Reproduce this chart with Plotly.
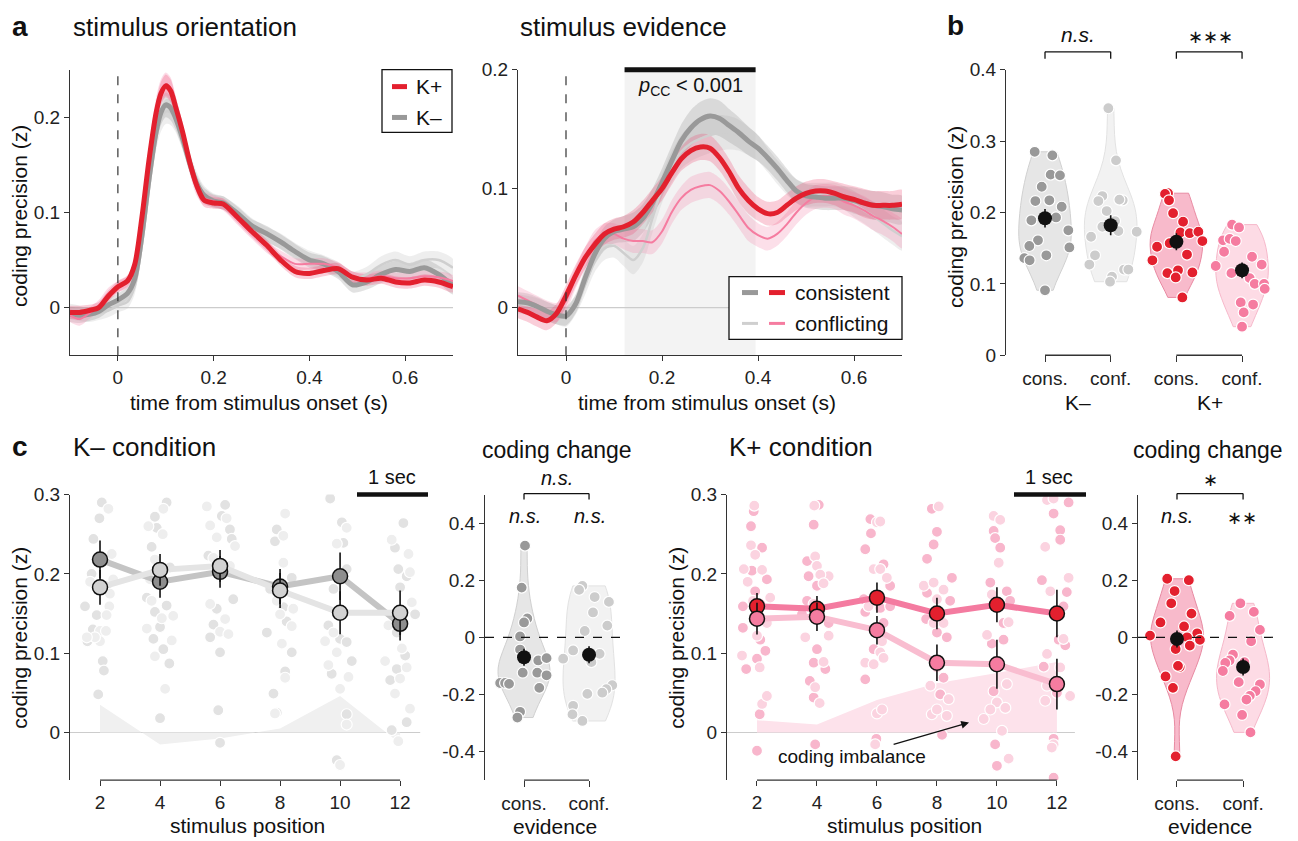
import numpy as np
import plotly.graph_objects as go

W, H = 1298, 841
FONT = "Liberation Sans, Arial, Helvetica, sans-serif"
AXC = "#333333"

RED = "#e3202e"
PINK = "#f57ca0"
GRAY = "#999999"
LGRAY = "#cfcfcf"

# ================= Panel a: stimulus orientation =================
A1_TIME = [-0.1, -0.08, -0.06, -0.04, -0.02, 0.0, 0.02, 0.035, 0.05, 0.065, 0.08, 0.09, 0.1, 0.11, 0.12,
           0.135, 0.15, 0.165, 0.18, 0.2, 0.22, 0.25, 0.28, 0.31, 0.34, 0.37, 0.4, 0.43, 0.46, 0.49,
           0.52, 0.55, 0.58, 0.61, 0.64, 0.67, 0.7]
A1_KPLUS = [-0.005, -0.005, -0.003, 0.0, 0.012, 0.022, 0.028, 0.045, 0.094, 0.155, 0.205, 0.225, 0.233, 0.228, 0.212,
            0.185, 0.153, 0.128, 0.113, 0.11, 0.109, 0.095, 0.08, 0.066, 0.05, 0.038, 0.036, 0.039, 0.041, 0.032,
            0.029, 0.031, 0.027, 0.026, 0.029, 0.027, 0.022]
A1_KPLUS_THIN = [-0.008, -0.012, -0.006, 0.002, 0.015, 0.022, 0.027, 0.045, 0.095, 0.16, 0.21, 0.228, 0.235, 0.23, 0.213,
                 0.183, 0.15, 0.125, 0.115, 0.112, 0.108, 0.093, 0.078, 0.064, 0.054, 0.046, 0.046, 0.046, 0.042, 0.032,
                 0.031, 0.033, 0.031, 0.031, 0.033, 0.032, 0.028]
A1_KMINUS = [-0.007, -0.008, -0.007, -0.004, 0.003, 0.008, 0.015, 0.03, 0.075, 0.135, 0.185, 0.205, 0.213, 0.21, 0.2,
             0.178, 0.152, 0.13, 0.118, 0.112, 0.11, 0.099, 0.086, 0.078, 0.069, 0.059, 0.05, 0.046, 0.038, 0.024,
             0.027, 0.035, 0.04, 0.038, 0.042, 0.035, 0.023]
A1_KMINUS_THIN = [-0.004, -0.006, -0.008, -0.006, -0.003, 0.002, 0.006, 0.022, 0.065, 0.125, 0.178, 0.198, 0.206, 0.205, 0.197,
                  0.177, 0.153, 0.133, 0.12, 0.113, 0.11, 0.1, 0.087, 0.077, 0.07, 0.06, 0.052, 0.047, 0.04, 0.03,
                  0.035, 0.045, 0.05, 0.045, 0.05, 0.05, 0.042]
A1_SEM_KP = [0.007, 0.007, 0.006, 0.006, 0.006, 0.006, 0.006, 0.007, 0.008, 0.01, 0.011, 0.012, 0.012, 0.012, 0.011,
             0.01, 0.009, 0.008, 0.007, 0.006, 0.006, 0.006, 0.006, 0.006, 0.006, 0.006, 0.006, 0.006, 0.006, 0.006,
             0.006, 0.006, 0.006, 0.006, 0.006, 0.006, 0.006]
A1_SEM_KM = [0.008, 0.008, 0.007, 0.007, 0.007, 0.007, 0.007, 0.008, 0.009, 0.011, 0.012, 0.013, 0.013, 0.013, 0.012,
             0.011, 0.01, 0.009, 0.008, 0.007, 0.007, 0.007, 0.007, 0.008, 0.008, 0.008, 0.008, 0.008, 0.008, 0.008,
             0.008, 0.009, 0.009, 0.009, 0.009, 0.009, 0.009]

# ================= Panel a: stimulus evidence =================
A2_TIME = [-0.1, -0.08, -0.06, -0.04, -0.02, 0.0, 0.02, 0.04, 0.06, 0.08, 0.1, 0.12, 0.14, 0.16, 0.18,
           0.2, 0.22, 0.24, 0.26, 0.28, 0.3, 0.32, 0.34, 0.36, 0.38, 0.4, 0.42, 0.44, 0.46, 0.48,
           0.5, 0.52, 0.54, 0.56, 0.58, 0.6, 0.62, 0.64, 0.66, 0.68, 0.7]
A2_KPLUS_CONS = [-0.001, -0.004, -0.008, -0.011, -0.005, 0.01, 0.027, 0.042, 0.053, 0.062, 0.066, 0.068, 0.072, 0.08, 0.09,
                 0.1, 0.113, 0.125, 0.132, 0.135, 0.134, 0.126, 0.114, 0.1, 0.09, 0.083, 0.079, 0.08, 0.086, 0.092,
                 0.096, 0.098, 0.098, 0.096, 0.093, 0.091, 0.088, 0.086, 0.086, 0.086, 0.087]
A2_KMINUS_CONS = [0.005, 0.004, 0.001, -0.003, -0.006, -0.007, 0.003, 0.025, 0.045, 0.058, 0.064, 0.066, 0.068, 0.075, 0.088,
                  0.105, 0.123, 0.14, 0.151, 0.158, 0.161, 0.159, 0.153, 0.147, 0.14, 0.134, 0.126, 0.117, 0.107, 0.098,
                  0.094, 0.093, 0.092, 0.092, 0.092, 0.09, 0.088, 0.086, 0.085, 0.083, 0.082]
A2_KMINUS_CONF = [0.003, 0.002, 0.0, -0.003, -0.006, -0.008, 0.002, 0.02, 0.039, 0.05, 0.052, 0.046, 0.04, 0.05, 0.075,
                  0.1, 0.118, 0.131, 0.138, 0.142, 0.145, 0.147, 0.147, 0.145, 0.14, 0.134, 0.124, 0.114, 0.105, 0.098,
                  0.095, 0.095, 0.095, 0.095, 0.092, 0.087, 0.082, 0.077, 0.071, 0.065, 0.06]
A2_KPLUS_CONF = [0.01, 0.006, 0.002, -0.002, -0.004, 0.006, 0.025, 0.042, 0.056, 0.062, 0.062, 0.058, 0.056, 0.056, 0.055,
                 0.064, 0.08, 0.092, 0.099, 0.102, 0.103, 0.098, 0.089, 0.078, 0.067, 0.061, 0.058, 0.062, 0.07, 0.08,
                 0.088, 0.093, 0.094, 0.093, 0.089, 0.086, 0.082, 0.077, 0.073, 0.068, 0.062]
A2_SEM_KP = [0.008, 0.008, 0.008, 0.008, 0.008, 0.009, 0.009, 0.009, 0.009, 0.009, 0.009, 0.009, 0.01, 0.01, 0.01,
             0.01, 0.01, 0.01, 0.011, 0.011, 0.011, 0.011, 0.011, 0.011, 0.011, 0.01, 0.01, 0.01, 0.01, 0.01,
             0.01, 0.01, 0.01, 0.01, 0.011, 0.011, 0.012, 0.012, 0.012, 0.012, 0.012]
A2_SEM_KM = [0.008, 0.008, 0.008, 0.008, 0.008, 0.008, 0.008, 0.009, 0.009, 0.01, 0.01, 0.011, 0.012, 0.012, 0.012,
             0.012, 0.013, 0.014, 0.015, 0.015, 0.015, 0.015, 0.014, 0.013, 0.012, 0.011, 0.01, 0.01, 0.01, 0.01,
             0.01, 0.01, 0.01, 0.01, 0.01, 0.011, 0.011, 0.012, 0.012, 0.012, 0.012]
SIG_WINDOW = [0.122, 0.395]

# ================= Panel b =================
B_KM_CONS_VALS = [0.285, 0.28, 0.253, 0.252, 0.236, 0.216, 0.217, 0.208, 0.193, 0.189, 0.175, 0.161, 0.153, 0.151, 0.14, 0.136, 0.133, 0.091]
B_KM_CONS_OFFS = [-0.157, 0.112, 0.086, 0.228, -0.05, -0.147, 0.066, 0.254, 0.168, -0.208, 0.355, -0.107, -0.239, 0.371, 0.02, -0.315, -0.234, 0.0]
B_KM_CONF_VALS = [0.346, 0.273, 0.223, 0.216, 0.217, 0.218, 0.202, 0.188, 0.18, 0.174, 0.173, 0.166, 0.14, 0.127, 0.11, 0.103, 0.12, 0.12]
B_KM_CONF_OFFS = [-0.036, 0.081, -0.127, -0.188, 0.183, 0.132, -0.061, 0.066, -0.127, 0.117, 0.396, -0.299, -0.239, -0.325, 0.02, -0.01, 0.203, 0.269]
B_KP_CONS_VALS = [0.227, 0.226, 0.217, 0.199, 0.187, 0.172, 0.171, 0.173, 0.16, 0.157, 0.152, 0.141, 0.133, 0.115, 0.119, 0.116, 0.109, 0.081]
B_KP_CONS_OFFS = [-0.127, -0.173, -0.112, -0.05, 0.102, 0.061, 0.203, 0.335, 0.396, -0.102, -0.294, 0.162, -0.365, -0.137, 0.025, 0.244, -0.01, 0.091]
B_KP_CONF_VALS = [0.183, 0.179, 0.161, 0.163, 0.16, 0.145, 0.138, 0.125, 0.127, 0.115, 0.108, 0.1, 0.1, 0.093, 0.074, 0.071, 0.06, 0.04]
B_KP_CONF_OFFS = [-0.152, -0.046, -0.289, -0.188, -0.096, -0.274, 0.152, -0.401, 0.299, -0.162, 0.117, 0.193, 0.335, 0.345, -0.02, 0.168, 0.025, 0.0]
B_MEANS = [0.192, 0.182, 0.159, 0.119]
B_SEMS = [0.013, 0.014, 0.012, 0.011]
B_TICKS = ["cons.", "conf.", "cons.", "conf."]

# ================= Panel c: stimulus position =================
C_POS = [2, 4, 6, 8, 10, 12]
KM_MEAN_CONS = [0.218, 0.19, 0.2025, 0.184, 0.197, 0.137]
KM_SEM_CONS = [0.024, 0.02, 0.02, 0.022, 0.03, 0.021]
KM_MEAN_CONF = [0.183, 0.205, 0.21, 0.179, 0.151, 0.151]
KM_SEM_CONF = [0.022, 0.02, 0.02, 0.022, 0.027, 0.028]
KP_MEAN_CONS = [0.159, 0.156, 0.17, 0.15, 0.161, 0.15]
KP_SEM_CONS = [0.017, 0.016, 0.019, 0.02, 0.022, 0.03]
KP_MEAN_CONF = [0.1435, 0.146, 0.129, 0.088, 0.086, 0.061]
KP_SEM_CONF = [0.02, 0.018, 0.018, 0.023, 0.031, 0.032]

KM_DOTS_CONS = [
    [0.29, 0.27, 0.244, 0.2, 0.159, 0.148, 0.13, 0.115, 0.09, 0.048, 0.185, 0.078],
    [0.29, 0.272, 0.258, 0.234, 0.208, 0.17, 0.16, 0.152, 0.133, 0.118, 0.105, 0.087, 0.018],
    [0.287, 0.273, 0.256, 0.244, 0.223, 0.168, 0.156, 0.136, 0.12, 0.101, 0.028, -0.013],
    [0.256, 0.241, 0.195, 0.181, 0.158, 0.14, 0.126, 0.101, 0.077, 0.049, 0.025],
    [0.295, 0.265, 0.239, 0.206, 0.181, 0.135, 0.118, 0.114, 0.09, 0.074, 0.023, -0.035],
    [0.264, 0.233, 0.206, 0.197, 0.149, 0.126, 0.097, 0.08, 0.066, 0.013, 0.003, 0.183],
]
KM_OFFS_CONS = [
    [0.06, -0.02, -0.22, -0.28, -0.5, -0.11, -0.24, -0.42, 0.09, -0.06, 0.22, 0.13],
    [0.22, -0.17, -0.11, -0.28, 0.33, -0.44, 0.22, -0.17, 0.0, -0.22, 0.11, 0.31, 0.0],
    [0.17, 0.06, 0.33, 0.39, -0.39, 0.44, -0.11, -0.22, -0.33, 0.0, -0.06, 0.0],
    [-0.11, -0.17, 0.39, -0.33, 0.11, 0.22, -0.44, 0.39, 0.17, -0.22, -0.11],
    [-0.33, 0.06, 0.11, 0.22, -0.22, -0.39, 0.0, 0.22, 0.39, -0.28, 0.22, -0.11],
    [0.11, -0.17, -0.06, 0.22, 0.5, -0.11, 0.17, -0.11, -0.33, 0.22, -0.28, 0.0],
]
KM_DOTS_CONF = [
    [0.282, 0.225, 0.193, 0.159, 0.148, 0.128, 0.128, 0.115, 0.12, 0.19, 0.175, 0.12],
    [0.282, 0.26, 0.25, 0.218, 0.193, 0.166, 0.147, 0.144, 0.131, 0.116, 0.096, 0.055],
    [0.285, 0.261, 0.27, 0.246, 0.235, 0.22, 0.21, 0.162, 0.143, 0.127, 0.124],
    [0.276, 0.248, 0.214, 0.166, 0.156, 0.149, 0.134, 0.112, 0.069, 0.024],
    [0.258, 0.238, 0.126, 0.115, 0.101, 0.085, 0.07, 0.055, 0.01, -0.041],
    [0.243, 0.225, 0.202, 0.164, 0.135, 0.106, 0.082, 0.09, 0.068, 0.03, 0.049, -0.011],
]
KM_OFFS_CONF = [
    [0.28, 0.39, 0.44, 0.31, 0.22, 0.0, 0.2, 0.0, -0.17, -0.33, 0.33, -0.44],
    [0.11, -0.39, 0.09, -0.17, -0.33, -0.28, 0.44, 0.06, -0.44, 0.39, -0.17, 0.17],
    [-0.44, -0.33, 0.22, -0.11, 0.5, -0.22, 0.33, -0.33, 0.17, 0.0, 0.28],
    [0.17, 0.11, 0.11, -0.11, 0.44, 0.0, 0.39, 0.06, 0.17, -0.17],
    [0.22, -0.11, -0.22, -0.5, -0.11, -0.39, 0.28, 0.0, 0.22, 0.0],
    [-0.28, 0.28, 0.33, 0.39, -0.39, 0.06, 0.22, -0.5, 0.0, 0.33, -0.17, -0.06],
]
KP_DOTS_CONS = [
    [0.279, 0.26, 0.233, 0.204, 0.193, 0.178, 0.159, 0.162, 0.132, 0.117, 0.093, 0.08, 0.023, -0.023, 0.103],
    [0.287, 0.262, 0.216, 0.197, 0.185, 0.166, 0.149, 0.138, 0.105, 0.088, 0.08, 0.065, 0.044, -0.015],
    [0.269, 0.251, 0.231, 0.212, 0.185, 0.168, 0.157, 0.152, 0.138, 0.105, 0.067, -0.008, 0.159],
    [0.282, 0.253, 0.237, 0.219, 0.195, 0.176, 0.166, 0.143, 0.126, 0.12, 0.069, 0.048, -0.003],
    [0.254, 0.245, 0.233, 0.189, 0.178, 0.166, 0.159, 0.138, 0.112, 0.117, 0.052, -0.015, -0.042],
    [0.276, 0.255, 0.243, 0.192, 0.177, 0.159, 0.117, 0.11, 0.083, 0.05, -0.008, -0.057, 0.29],
]
KP_OFFS_CONS = [
    [-0.11, -0.2, 0.17, -0.17, 0.33, -0.06, -0.47, 0.11, -0.47, 0.11, 0.0, -0.36, 0.09, 0.0, 0.28],
    [0.06, -0.11, -0.33, -0.28, 0.0, -0.33, -0.5, 0.39, 0.0, -0.11, 0.28, -0.24, -0.11, -0.06],
    [-0.22, -0.2, -0.39, 0.22, 0.44, -0.44, 0.11, -0.39, 0.22, -0.11, -0.39, -0.02, 0.44],
    [-0.17, 0.0, -0.11, -0.33, 0.5, -0.33, 0.44, -0.36, 0.0, 0.33, 0.22, 0.11, 0.17],
    [-0.11, -0.06, 0.11, -0.22, 0.33, 0.44, -0.11, 0.22, -0.17, 0.22, -0.11, -0.06, 0.0],
    [-0.11, 0.11, 0.11, -0.5, 0.33, 0.22, 0.06, 0.28, -0.44, 0.0, -0.11, -0.11, 0.39],
]
KP_DOTS_CONF = [
    [0.286, 0.236, 0.224, 0.206, 0.205, 0.19, 0.17, 0.166, 0.122, 0.138, 0.097, 0.082, 0.036, 0.046],
    [0.286, 0.222, 0.21, 0.197, 0.199, 0.188, 0.162, 0.153, 0.122, 0.12, 0.089, 0.057, 0.037],
    [0.265, 0.266, 0.206, 0.206, 0.195, 0.159, 0.115, 0.101, 0.088, 0.086, 0.094, 0.024, 0.029, -0.015],
    [0.285, 0.185, 0.189, 0.18, 0.168, 0.138, 0.138, 0.082, 0.059, 0.042, 0.023, 0.029, 0.021],
    [0.273, 0.268, 0.214, 0.174, 0.139, 0.123, 0.061, 0.038, 0.029, 0.031, 0.017, 0.002, -0.033],
    [0.293, 0.295, 0.234, 0.195, 0.178, 0.118, 0.099, 0.082, 0.059, 0.046, 0.04, -0.015, -0.019],
]
KP_OFFS_CONF = [
    [-0.09, -0.2, -0.06, -0.44, 0.17, -0.31, 0.44, -0.13, 0.0, 0.33, -0.5, 0.09, 0.17, 0.33],
    [-0.09, -0.06, 0.0, 0.39, 0.11, 0.22, -0.11, 0.0, 0.39, -0.39, 0.22, -0.06, 0.09],
    [0.0, 0.11, -0.11, 0.11, 0.33, -0.28, 0.17, 0.11, -0.39, -0.11, 0.22, 0.0, 0.17, -0.06],
    [0.06, -0.44, -0.11, 0.22, 0.0, -0.11, 0.22, 0.0, -0.22, 0.39, -0.17, 0.0, 0.33],
    [-0.11, 0.11, 0.06, -0.17, 0.39, -0.33, 0.33, 0.0, -0.22, 0.28, -0.44, 0.17, 0.39],
    [-0.33, -0.11, -0.39, 0.39, -0.22, 0.22, -0.33, 0.11, -0.33, 0.44, -0.39, -0.11, -0.17],
]

# ================= Panel c: coding change =================
C2_CONS_VALS = [0.321, 0.174, 0.066, 0.052, 0.003, -0.043, -0.067, -0.081, -0.073, -0.124, -0.124, -0.133, -0.16, -0.16, -0.163, -0.177, -0.261, -0.281]
C2_CONS_OFFS = [0.015, -0.036, 0.051, 0.0, -0.061, -0.061, -0.02, 0.219, 0.347, -0.02, 0.204, 0.347, -0.367, -0.291, -0.23, 0.235, -0.061, -0.102]
C2_CONF_VALS = [0.18, 0.166, 0.141, 0.124, 0.087, 0.022, 0.041, -0.046, -0.075, -0.058, -0.087, -0.168, -0.182, -0.194, -0.198, -0.24, -0.27, -0.293]
C2_CONF_OFFS = [-0.102, -0.153, 0.087, 0.306, 0.061, -0.066, 0.281, -0.245, -0.398, 0.163, 0.036, 0.357, 0.265, 0.204, -0.026, -0.245, -0.255, -0.102]
C2_MEANS = [-0.07, -0.061]
C2_SEMS = [0.03, 0.03]
C4_CONS_VALS = [0.205, 0.2, 0.162, 0.119, 0.083, 0.052, 0.038, 0.006, 0.014, 0.0, -0.009, -0.029, -0.041, -0.104, -0.137, -0.177, -0.417, -0.1]
C4_CONS_OFFS = [-0.148, 0.179, -0.036, -0.087, 0.219, -0.25, 0.107, -0.408, 0.306, 0.153, 0.347, 0.194, -0.02, 0.041, -0.173, -0.061, -0.02, 0.015]
C4_CONF_VALS = [0.119, 0.075, 0.089, 0.026, -0.014, -0.061, -0.081, -0.09, -0.118, -0.087, -0.157, -0.165, -0.189, -0.205, -0.218, -0.235, -0.272, -0.333]
C4_CONF_OFFS = [-0.041, -0.204, 0.163, 0.255, 0.122, -0.153, -0.204, -0.27, -0.306, 0.02, -0.066, 0.255, 0.189, 0.102, 0.051, -0.281, -0.015, 0.112]
C4_MEANS = [-0.006, -0.104]
C4_SEMS = [0.03, 0.03]
CHANGE_TICKS = ["cons.", "conf."]

# ================= layout helpers =================
AXES = {
    1: ((70, 453), (68, 355), [-0.1, 0.7], [-0.05, 0.25]),
    2: ((518, 902), (68, 355), [-0.1, 0.7], [-0.04, 0.2]),
    3: ((1006, 1290), (68, 355), [-0.594, 3.73], [0, 0.4]),
    4: ((70, 428), (495, 782), [1, 12.93], [-0.06, 0.3]),
    5: ((485, 630), (495, 782), [-0.6, 1.63], [-0.5, 0.5]),
    6: ((727, 1086), (495, 782), [1, 12.97], [-0.06, 0.3]),
    7: ((1138, 1290), (495, 782), [-0.59, 1.71], [-0.5, 0.5]),
}


def sx(k):
    return "" if k == 1 else str(k)


def YF(py):
    # vertical placement correction for the page capture
    return (py - 8.0) / 0.98


def P(px, py):
    return px / W, 1 - YF(py) / H


layout = dict(width=W, height=H, margin=dict(l=0, r=0, t=0, b=0), paper_bgcolor="white",
              plot_bgcolor="white", showlegend=False, violinmode="overlay",
              font=dict(family=FONT, size=19, color="#222"))
for k, (xp, yp_, xr, yr) in AXES.items():
    s = sx(k)
    common = dict(showgrid=False, zeroline=False, ticks="outside", ticklen=5, tickwidth=1.3,
                  tickcolor=AXC, linecolor=AXC, linewidth=1.3, tickfont=dict(size=19, family=FONT, color="#222"),
                  fixedrange=True)
    layout["xaxis" + s] = dict(domain=[xp[0] / W, xp[1] / W], range=xr, anchor="y" + s, showline=False, **common)
    layout["yaxis" + s] = dict(domain=[P(0, yp_[1])[1], P(0, yp_[0])[1]], range=yr, anchor="x" + s, showline=True, **common)

for k in (1, 2):
    layout["xaxis" + sx(k)].update(showline=True, tickvals=[0, 0.2, 0.4, 0.6])
    layout["yaxis" + sx(k)].update(tickvals=[0, 0.1, 0.2])
layout["xaxis3"].update(tickvals=[0, 1, 2, 3], ticktext=B_TICKS, ticklen=6)
layout["yaxis3"].update(tickvals=[0, 0.1, 0.2, 0.3, 0.4])
for k in (4, 6):
    layout["xaxis" + sx(k)].update(tickvals=C_POS)
    layout["yaxis" + sx(k)].update(tickvals=[0, 0.1, 0.2, 0.3])
for k in (5, 7):
    layout["xaxis" + sx(k)].update(tickvals=[0, 1], ticktext=CHANGE_TICKS, ticklen=6)
    layout["yaxis" + sx(k)].update(tickvals=[-0.4, -0.2, 0, 0.2, 0.4], ticktext=["-0.4", "-0.2", "0", "0.2", "0.4"])

fig = go.Figure()


def add(trace, k):
    trace.update(xaxis="x" + sx(k), yaxis="y" + sx(k), hoverinfo="skip")
    fig.add_trace(trace)


def band(k, t, v, s, color):
    v = np.array(v); s = np.array(s)
    xs = list(t) + list(t)[::-1]
    ys = list(v + s) + list((v - s)[::-1])
    add(go.Scatter(x=xs, y=ys, fill="toself", fillcolor=color, mode="lines",
                   line=dict(width=0, shape="spline", smoothing=0.8)), k)


def curve(k, t, v, color, width):
    add(go.Scatter(x=t, y=v, mode="lines", line=dict(color=color, width=width, shape="spline", smoothing=0.8)), k)


# ---- a1 ----
band(1, A1_TIME, A1_KMINUS_THIN, A1_SEM_KM, "rgba(200,200,200,0.30)")
band(1, A1_TIME, A1_KMINUS, A1_SEM_KM, "rgba(150,150,150,0.28)")
band(1, A1_TIME, A1_KPLUS_THIN, A1_SEM_KP, "rgba(246,140,175,0.30)")
band(1, A1_TIME, A1_KPLUS, A1_SEM_KP, "rgba(236,80,120,0.28)")
curve(1, A1_TIME, A1_KMINUS_THIN, LGRAY, 2.5)
curve(1, A1_TIME, A1_KMINUS, GRAY, 5)
curve(1, A1_TIME, A1_KPLUS_THIN, PINK, 2)
curve(1, A1_TIME, A1_KPLUS, RED, 5)

# ---- a2 ----
band(2, A2_TIME, A2_KMINUS_CONF, A2_SEM_KM, "rgba(200,200,200,0.30)")
band(2, A2_TIME, A2_KMINUS_CONS, A2_SEM_KM, "rgba(150,150,150,0.28)")
band(2, A2_TIME, A2_KPLUS_CONF, A2_SEM_KP, "rgba(246,140,175,0.28)")
band(2, A2_TIME, A2_KPLUS_CONS, A2_SEM_KP, "rgba(236,80,120,0.28)")
curve(2, A2_TIME, A2_KMINUS_CONF, LGRAY, 2.5)
curve(2, A2_TIME, A2_KPLUS_CONF, PINK, 2)
curve(2, A2_TIME, A2_KMINUS_CONS, GRAY, 5)
curve(2, A2_TIME, A2_KPLUS_CONS, RED, 5)


# ---- violins ----
def violin(k, pos, vals, fill, edge):
    add(go.Violin(x=[pos] * len(vals), y=vals, width=0.8, spanmode="hard", points=False,
                  fillcolor=fill, line=dict(color=edge, width=1), box_visible=False,
                  meanline_visible=False, scalemode="width", orientation="v"), k)


def dots(k, pos, vals, offs, color, size=11):
    add(go.Scatter(x=[pos + o for o in offs], y=vals, mode="markers",
                   marker=dict(size=size, color=color, line=dict(color="white", width=1.2))), k)


def mean_dot(k, xs, ys, es, size=14):
    add(go.Scatter(x=xs, y=ys, mode="markers",
                   error_y=dict(type="data", array=es, color="#111", thickness=1.6, width=0),
                   marker=dict(size=size, color="#111")), k)


violin(3, 0, B_KM_CONS_VALS, "#e6e6e6", "#d0d0d0")
violin(3, 1, B_KM_CONF_VALS, "#f2f2f2", "#e2e2e2")
violin(3, 2, B_KP_CONS_VALS, "#f8bacb", "#e88aa2")
violin(3, 3, B_KP_CONF_VALS, "#fddbe5", "#f6b8ca")
dots(3, 0, B_KM_CONS_VALS, B_KM_CONS_OFFS, GRAY)
dots(3, 1, B_KM_CONF_VALS, B_KM_CONF_OFFS, "#cccccc")
dots(3, 2, B_KP_CONS_VALS, B_KP_CONS_OFFS, RED)
dots(3, 3, B_KP_CONF_VALS, B_KP_CONF_OFFS, PINK)
mean_dot(3, [0, 1, 2, 3], B_MEANS, B_SEMS)

violin(5, 0, C2_CONS_VALS, "#e6e6e6", "#d0d0d0")
violin(5, 1, C2_CONF_VALS, "#f2f2f2", "#e2e2e2")
dots(5, 0, C2_CONS_VALS, C2_CONS_OFFS, GRAY)
dots(5, 1, C2_CONF_VALS, C2_CONF_OFFS, "#cccccc")
mean_dot(5, [0, 1], C2_MEANS, C2_SEMS)

violin(7, 0, C4_CONS_VALS, "#f8bacb", "#e88aa2")
violin(7, 1, C4_CONF_VALS, "#fddbe5", "#f6b8ca")
dots(7, 0, C4_CONS_VALS, C4_CONS_OFFS, RED)
dots(7, 1, C4_CONF_VALS, C4_CONF_OFFS, PINK)
mean_dot(7, [0, 1], C4_MEANS, C4_SEMS)


# ---- c1 / c3 ----
def position_panel(k, m_cons, s_cons, m_conf, s_conf, d_cons, o_cons, d_conf, o_conf,
                   area_col, dot_cons, dot_conf, line_cons, line_conf, mk_cons, mk_conf):
    diff = np.array(m_cons) - np.array(m_conf)
    add(go.Scatter(x=C_POS, y=diff, mode="lines", fill="tozeroy", fillcolor=area_col,
                   line=dict(width=0)), k)
    for p, vals, offs in zip(C_POS, d_cons, o_cons):
        dots(k, p, vals, offs, dot_cons, size=11)
    for p, vals, offs in zip(C_POS, d_conf, o_conf):
        dots(k, p, vals, offs, dot_conf, size=11)
    add(go.Scatter(x=C_POS, y=m_cons, mode="lines", line=dict(color=line_cons, width=6)), k)
    add(go.Scatter(x=C_POS, y=m_conf, mode="lines", line=dict(color=line_conf, width=6)), k)
    for m, s, c in ((m_cons, s_cons, mk_cons), (m_conf, s_conf, mk_conf)):
        add(go.Scatter(x=C_POS, y=m, mode="markers",
                       error_y=dict(type="data", array=s, color="#111", thickness=1.6, width=0),
                       marker=dict(size=15, color=c, line=dict(color="#111", width=1.5))), k)


position_panel(4, KM_MEAN_CONS, KM_SEM_CONS, KM_MEAN_CONF, KM_SEM_CONF,
               KM_DOTS_CONS, KM_OFFS_CONS, KM_DOTS_CONF, KM_OFFS_CONF,
               "#f0f0f0", "#e2e2e2", "#eeeeee", "#c4c4c4", "#e4e4e4", "#8e8e8e", "#d2d2d2")
position_panel(6, KP_MEAN_CONS, KP_SEM_CONS, KP_MEAN_CONF, KP_SEM_CONF,
               KP_DOTS_CONS, KP_OFFS_CONS, KP_DOTS_CONF, KP_OFFS_CONF,
               "#fde2eb", "#f8b6cc", "#fbd3e0", "#f47ba0", "#f9bdd0", RED, PINK)

# ================= shapes =================
shapes = []


def pline(x0, y0, x1, y1, color="#111", width=1.3, dash=None):
    a, b = P(x0, y0); c, d = P(x1, y1)
    shapes.append(dict(type="line", xref="paper", yref="paper", x0=a, y0=b, x1=c, y1=d,
                       line=dict(color=color, width=width, dash=dash)))


def prect(x0, y0, x1, y1, fill="white", line="#111", width=1.3):
    a, b = P(x0, y1); c, d = P(x1, y0)
    shapes.append(dict(type="rect", xref="paper", yref="paper", x0=a, y0=b, x1=c, y1=d,
                       fillcolor=fill, line=dict(color=line, width=width)))


def yp(py):
    return P(0, py)[1]


for k in (1, 2):
    shapes.append(dict(type="line", xref="x" + sx(k), yref="y" + sx(k), x0=-0.1, x1=0.7, y0=0, y1=0,
                       line=dict(color="#cccccc", width=1.2), layer="below"))
    shapes.append(dict(type="line", xref="x" + sx(k), yref="y" + sx(k) + " domain", x0=0, x1=0, y0=0, y1=1,
                       line=dict(color="#333", width=1.2, dash="dash")))
shapes.insert(0, dict(type="rect", xref="x2", yref="y2 domain", x0=SIG_WINDOW[0], x1=SIG_WINDOW[1], y0=0, y1=1,
                      fillcolor="#f3f3f3", line=dict(width=0), layer="below"))
shapes.append(dict(type="line", xref="x2", yref="paper", x0=SIG_WINDOW[0], x1=SIG_WINDOW[1],
                   y0=yp(68), y1=yp(68), line=dict(color="#111", width=5)))

# legends
prect(382, 68, 452, 131)
pline(392, 85, 407, 85, RED, 5)
pline(392, 116, 407, 116, GRAY, 5)
prect(729, 276, 902, 339)
pline(742, 292, 758, 292, GRAY, 5)
pline(769, 292, 785, 292, RED, 5)
pline(742, 323, 758, 323, LGRAY, 3)
pline(769, 323, 785, 323, PINK, 3)

# b brackets
for a_, b_ in ((0, 1), (2, 3)):
    shapes.append(dict(type="line", xref="x3", yref="paper", x0=a_, x1=b_, y0=yp(355), y1=yp(355),
                       line=dict(color=AXC, width=1.3)))
    for xx in (a_, b_):
        shapes.append(dict(type="line", xref="x3", yref="paper", x0=xx, x1=xx, y0=yp(50), y1=yp(57),
                           line=dict(color="#111", width=1.3)))
    shapes.append(dict(type="line", xref="x3", yref="paper", x0=a_, x1=b_, y0=yp(50), y1=yp(50),
                       line=dict(color="#111", width=1.3)))

for k, (lo, hi) in ((4, (2, 12)), (6, (2, 12)), (5, (0, 1)), (7, (0, 1))):
    shapes.append(dict(type="line", xref="x" + sx(k), yref="paper", x0=lo, x1=hi, y0=yp(782),
                       y1=yp(782), line=dict(color=AXC, width=1.3)))
for k, right in ((4, 12.67), (6, 12.6)):
    shapes.append(dict(type="line", xref="x" + sx(k), yref="y" + sx(k), x0=1, x1=right, y0=0, y1=0,
                       line=dict(color="#cccccc", width=1.2), layer="below"))
for k, (lo, hi) in ((5, (-0.6, 1.6)), (7, (-0.59, 1.56))):
    shapes.append(dict(type="line", xref="x" + sx(k), yref="y" + sx(k), x0=lo, x1=hi, y0=0, y1=0,
                       line=dict(color="#111", width=1.2, dash="dash")))
    for xx in (0, 1):
        shapes.append(dict(type="line", xref="x" + sx(k), yref="paper", x0=xx, x1=xx, y0=yp(494),
                           y1=yp(500), line=dict(color="#111", width=1.3)))
    shapes.append(dict(type="line", xref="x" + sx(k), yref="paper", x0=0, x1=1, y0=yp(494),
                       y1=yp(494), line=dict(color="#111", width=1.3)))

pline(357, 495, 428, 495, "#111", 4.5)
pline(1014, 495, 1086, 495, "#111", 4.5)

# ================= annotations =================
annotations = []


def txt(text, px, py, size=19, xanchor="center", yanchor="middle", angle=0, color="#111"):
    x, y = P(px, py)
    annotations.append(dict(text=text, x=x, y=y, xref="paper", yref="paper", xanchor=xanchor, yanchor=yanchor,
                            showarrow=False, textangle=angle, font=dict(size=size, family=FONT, color=color)))


txt("<b>a</b>", 20, 25, 28)
txt("stimulus orientation", 71, 25, 26, xanchor="left")
txt("stimulus evidence", 518, 25, 26, xanchor="left")
txt("<b>b</b>", 955, 24, 28)
txt("<b>c</b>", 20, 447, 28)
txt("K\u2013 condition", 71, 447, 26, xanchor="left")
txt("K+ condition", 727, 447, 26, xanchor="left")
txt("coding change", 557, 450, 23)
txt("coding change", 1208, 450, 23)

txt("time from stimulus onset (s)", 259, 402, 21)
txt("time from stimulus onset (s)", 707, 402, 21)
txt("coding precision (z)", 20, 215, 21, angle=-90)
txt("coding precision (z)", 956, 216, 21, angle=-90)
txt("coding precision (z)", 20, 639, 21, angle=-90)
txt("coding precision (z)", 677, 639, 21, angle=-90)
txt("stimulus position", 247, 828, 21)
txt("stimulus position", 904, 828, 21)
txt("evidence", 555, 829, 21)
txt("evidence", 1210, 829, 21)
txt("K\u2013", 1078, 402, 21)
txt("K+", 1210, 402, 21)

txt("K+", 414, 85, 21, xanchor="left")
txt("K\u2013", 414, 116, 21, xanchor="left")
txt("consistent", 793, 292, 21, xanchor="left")
txt("conflicting", 793, 323, 21, xanchor="left")
txt("<i>p</i><sub>CC</sub> &lt; 0.001", 690, 85, 20)

txt("<i>n.s.</i>", 1078, 33, 21)
txt("\u2217\u2217\u2217", 1210, 35, 18)
txt("<i>n.s.</i>", 557, 478, 20)
txt("<i>n.s.</i>", 525, 517, 20)
txt("<i>n.s.</i>", 590, 517, 20)
txt("\u2217", 1210, 480, 18)
txt("<i>n.s.</i>", 1177, 517, 20)
txt("\u2217\u2217", 1242, 519, 18)
txt("1 sec", 392, 477, 20)
txt("1 sec", 1049, 477, 20)
annotations.append(dict(text="coding imbalance", x=9.07, y=0.0126, xref="x6", yref="y6", ax=5.17, ay=-0.030,
                        axref="x6", ayref="y6", showarrow=True, arrowhead=2, arrowsize=1.2,
                        arrowwidth=1.3, arrowcolor="#111", font=dict(size=19, family=FONT, color="#111")))

layout["shapes"] = shapes
layout["annotations"] = annotations
fig.update_layout(**layout)
fig.write_html("out.html", config={"displayModeBar": False},
               post_script="document.body.style.margin='0px';document.body.style.padding='0px';")
